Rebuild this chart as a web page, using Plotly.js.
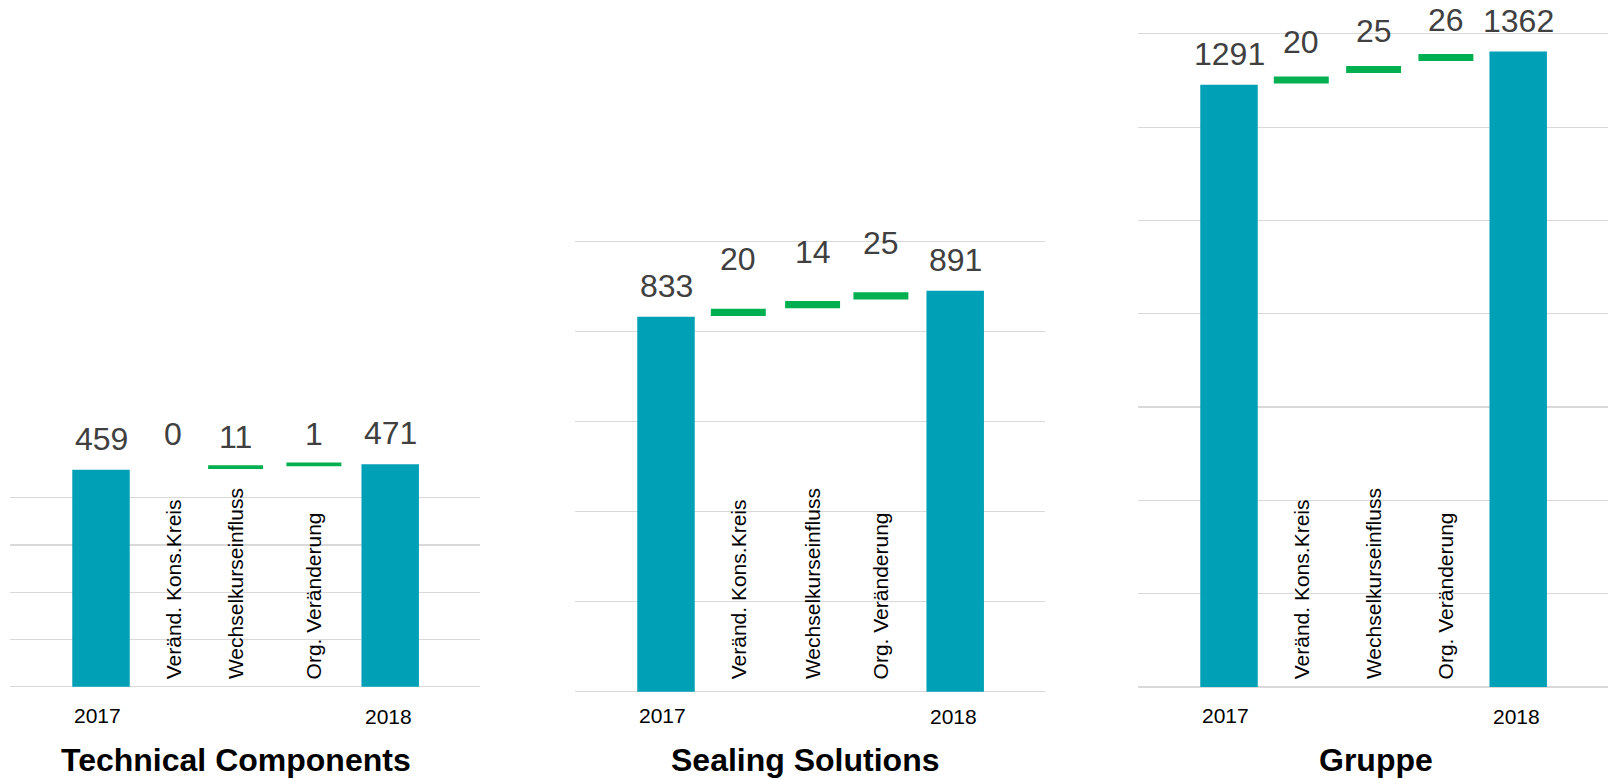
<!DOCTYPE html>
<html>
<head>
<meta charset="utf-8">
<script src="https://cdn.plot.ly/plotly-3.0.1.min.js"></script>
<style>
  html, body { margin: 0; padding: 0; background: #ffffff; }
  #chart { width: 1608px; height: 779px; }
</style>
</head>
<body>
<div id="chart"></div>
<script>
// ---------------- DATA ----------------
const categories = ['2017', 'Veränd. Kons.Kreis', 'Wechselkurseinfluss', 'Org. Veränderung', '2018'];
const yearLabels = ['2017', '2018'];
const panelTitles = ['Technical Components', 'Sealing Solutions', 'Gruppe'];
const techValues   = [459, 0, 11, 1, 471];
const sealValues   = [833, 20, 14, 25, 891];
const gruppeValues = [1291, 20, 25, 26, 1362];
const panelValues = [techValues, sealValues, gruppeValues];

// ---------------- LAYOUT / STYLE ----------------
const W = 1608, H = 779;
const TEAL = '#00A0B6', GREEN = '#00B050', GRID = '#D9D9D9', LABEL = '#404040';
const FONT = 'Liberation Sans, Arial, sans-serif';
const panels = [
  { x0: 10,   baseline: 686.7, scale: 0.4725, yMax: 500,  grid: [0,100,200,300,400],               thick: 3.8, gShift: 30, slotShift: [0, 0, -10, -4, 0] },
  { x0: 575,  baseline: 691.7, scale: 0.45,   yMax: 1050, grid: [0,200,400,600,800,1000],          thick: 7.3, gShift: 53, slotShift: [0, 0, 2, -2, 0] },
  { x0: 1138, baseline: 686.9, scale: 0.4665, yMax: 1450, grid: [0,200,400,600,800,1000,1200,1400], thick: 7.0, gShift: 38, slotShift: [0, 0, 0, 0, 0] }
];
const panelWidth = 470, firstCenter = 91, step = 72.3;
const xRange = [-firstCenter / step, (panelWidth - firstCenter) / step];
const padPx = 3; // extra room below zero so the baseline grid line is drawn
const greenWidth = 0.76;

const traces = [];
const annotations = [];
const layout = {
  width: W, height: H,
  margin: { l: 0, r: 0, t: 0, b: 0 },
  paper_bgcolor: '#ffffff', plot_bgcolor: '#ffffff',
  showlegend: false, barmode: 'overlay',
  font: { family: FONT }
};

panels.forEach((p, k) => {
  const vals = panelValues[k];
  const sfx = k === 0 ? '' : String(k + 1);
  const xa = 'x' + sfx, ya = 'y' + sfx;
  const topPx = p.baseline - p.yMax * p.scale;
  const lastIdx = categories.length - 1;
  layout['xaxis' + sfx] = {
    domain: [p.x0 / W, (p.x0 + panelWidth) / W],
    anchor: ya, type: 'category',
    categoryorder: 'array', categoryarray: categories,
    range: xRange, showticklabels: false, showgrid: false,
    zeroline: false, showline: false, ticks: '', fixedrange: true
  };
  layout['yaxis' + sfx] = {
    domain: [1 - (p.baseline + padPx) / H, 1 - topPx / H],
    anchor: xa, range: [-padPx / p.scale, p.yMax],
    tickvals: p.grid, showticklabels: false,
    showgrid: true, gridcolor: GRID, gridwidth: 1.2,
    zeroline: false, showline: false, ticks: '', fixedrange: true
  };

  // total bars
  const first = vals[0], last = vals[lastIdx];
  traces.push({
    type: 'bar', xaxis: xa, yaxis: ya,
    x: [categories[0], categories[lastIdx]],
    y: [first, last], width: 0.795,
    marker: { color: TEAL }, hoverinfo: 'skip'
  });
  [[0, first], [lastIdx, last]].forEach(([idx, v]) => {
    annotations.push({ xref: xa, yref: ya, x: idx, y: v, text: String(v),
      showarrow: false, yanchor: 'middle', yshift: 30.7, font: { size: 32, color: LABEL, family: FONT } });
  });

  // delta markers
  const gx = [], gy = [], gb = [], go = [];
  let cum = first;
  for (let i = 1; i < lastIdx; i++) {
    const v = vals[i];
    const mid = cum + v / 2;
    const tu = p.thick / p.scale;
    const sh = p.slotShift[i];
    if (v !== 0) { gx.push(categories[i]); gb.push(mid - tu / 2); gy.push(tu); go.push(-greenWidth / 2 + sh / step); }
    annotations.push({ xref: xa, yref: ya, x: i, y: v === 0 ? cum : mid, text: String(v),
      showarrow: false, yanchor: 'middle', yshift: v === 0 ? p.gShift + 6 : p.gShift, xshift: sh,
      font: { size: 32, color: LABEL, family: FONT } });
    // rotated category label
    annotations.push({ xref: xa, yref: 'paper', x: i, y: 1 - 681 / H, text: categories[i],
      showarrow: false, textangle: -90, yanchor: 'bottom', xanchor: 'center', xshift: sh,
      font: { size: 21, color: '#000000', family: FONT } });
    cum += v;
  }
  traces.push({
    type: 'bar', xaxis: xa, yaxis: ya,
    x: gx, y: gy, base: gb, width: greenWidth, offset: go,
    marker: { color: GREEN }, hoverinfo: 'skip'
  });

  // year labels under the axis
  [0, lastIdx].forEach((idx, j) => {
    annotations.push({ xref: xa, yref: 'paper', x: idx, y: 1 - (715 + j * 1.5) / H, text: yearLabels[j],
      showarrow: false, yanchor: 'middle', xshift: j === 0 ? -4 : -2,
      font: { size: 21, color: '#000000', family: FONT } });
  });

  // panel title
  annotations.push({ xref: 'paper', yref: 'paper',
    x: (p.x0 + (k === 0 ? 225.5 : k === 1 ? 230 : 238)) / W, y: 1 - 759.5 / H,
    text: '<b>' + panelTitles[k] + '</b>', showarrow: false,
    xanchor: 'center', yanchor: 'middle',
    font: { size: 32, color: '#000000', family: FONT } });
});

layout.annotations = annotations;
Plotly.newPlot('chart', traces, layout, { displayModeBar: false, staticPlot: true });
</script>
</body>
</html>
